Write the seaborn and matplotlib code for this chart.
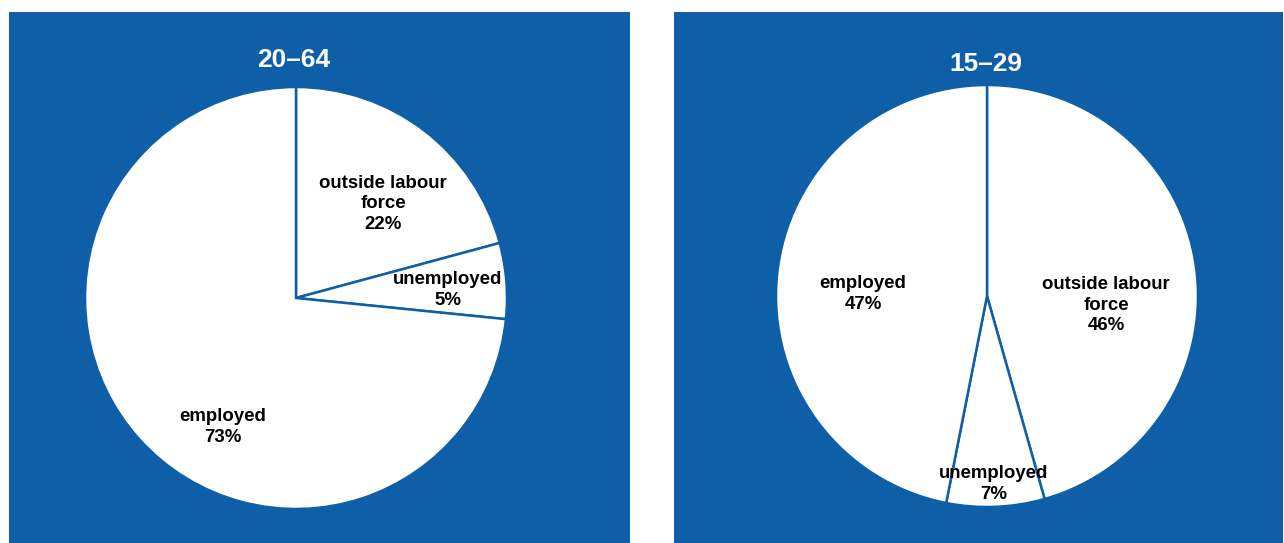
import matplotlib
matplotlib.use("Agg")
import matplotlib.pyplot as plt
import seaborn as sns

# ---- data ----
groups = ["20–64", "15–29"]
categories_left = ["outside labour\nforce", "unemployed", "employed"]
shares_left = [20.8, 5.8, 73.4]          # wedge sizes as drawn
labels_left = ["22%", "5%", "73%"]       # printed labels
categories_right = ["outside labour\nforce", "unemployed", "employed"]
shares_right = [45.6, 7.5, 46.9]
labels_right = ["46%", "7%", "47%"]

BLUE = "#0E5EA8"
W, H = 1284, 543

sns.set_theme(style="white")
plt.rcParams["font.family"] = ["Liberation Sans", "DejaVu Sans"]

fig = plt.figure(figsize=(W / 100, H / 100), dpi=100, facecolor="white")

# panel layouts in pixel coordinates
panels = [
    dict(x0=9, x1=630, top=12, center=(296, 298), r=211, title_xy=(294, 60),
         shares=shares_left, cats=categories_left, labs=labels_left,
         label_xy=[(383, 204), (448, 290), (223, 427)]),
    dict(x0=674, x1=1283, top=12, center=(987, 296), r=211, title_xy=(986, 64),
         shares=shares_right, cats=categories_right, labs=labels_right,
         label_xy=[(1106, 305), (994, 484), (863, 294)]),
]

for p, title in zip(panels, groups):
    ax = fig.add_axes([p["x0"] / W, 0, (p["x1"] - p["x0"]) / W, (H - p["top"]) / H])
    ax.pie(p["shares"], startangle=90, counterclock=False,
           center=(p["center"][0], H - p["center"][1]), radius=p["r"],
           colors=["white"] * len(p["shares"]),
           wedgeprops=dict(edgecolor=BLUE, linewidth=1.8),
           frame=True)
    ax.set_xlim(p["x0"], p["x1"])
    ax.set_ylim(0, H - p["top"])
    ax.set_aspect("auto")
    ax.set_facecolor(BLUE)
    ax.set_xticks([])
    ax.set_yticks([])
    sns.despine(ax=ax, left=True, bottom=True)
    ax.text(p["title_xy"][0], H - p["title_xy"][1], title, color="white",
            fontsize=19, fontweight="bold", ha="center", va="center")
    for cat, lab, (lx, ly) in zip(p["cats"], p["labs"], p["label_xy"]):
        ax.text(lx, H - ly, f"{cat}\n{lab}", color="black", fontsize=13.4,
                fontweight="bold", ha="center", va="center",
                multialignment="center", linespacing=1.25)

fig.savefig("out.png", dpi=100, facecolor="white")
